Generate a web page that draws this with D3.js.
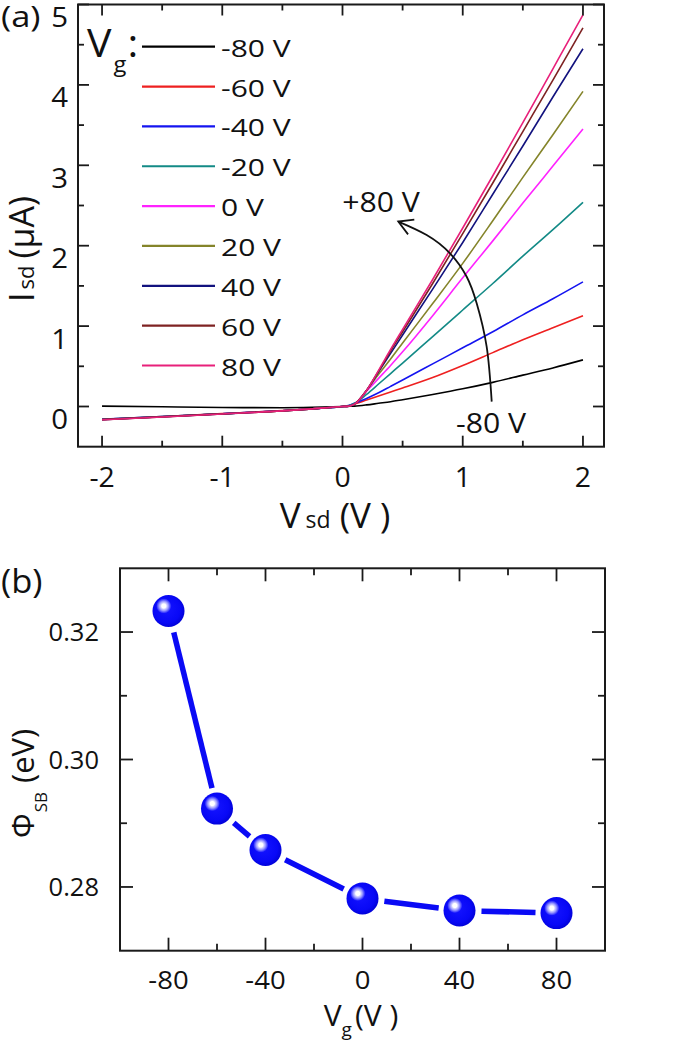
<!DOCTYPE html>
<html>
<head>
<meta charset="utf-8">
<script src="https://cdn.jsdelivr.net/npm/d3@7"></script>
<style>
  html, body { margin: 0; padding: 0; background: #ffffff; }
  svg { display: block; }
  text { font-family: "Open Sans", "Noto Sans", sans-serif; fill: #111; }
</style>
</head>
<body>
<svg id="chart" width="685" height="1041"></svg>
<script>
// ---------------- Panel (a) data ----------------
const vsd = [-2, -1.5, -1, -0.5, -0.25, 0, 0.05, 0.1, 0.2, 0.3, 0.4, 0.5, 0.75, 1, 1.25, 1.5, 1.75, 2];
const gateLabels = ["-80 V", "-60 V", "-40 V", "-20 V", "0 V", "20 V", "40 V", "60 V", "80 V"];
const gateColors = ["#000000", "#ee2020", "#1414f0", "#138a86", "#ff22ff", "#84842a", "#12127e", "#7e2222", "#e8207a"];
const isdM80 = [0.005, -0.004, -0.012, -0.015, -0.01, 0, 0.002, 0.005, 0.02, 0.04, 0.06, 0.085, 0.15, 0.22, 0.30, 0.39, 0.48, 0.58];
const isdM60 = [-0.158, -0.124, -0.089, -0.051, -0.028, 0, 0.01, 0.03, 0.08, 0.13, 0.18, 0.23, 0.36, 0.51, 0.67, 0.83, 0.98, 1.13];
const isdM40 = [-0.159, -0.125, -0.09, -0.052, -0.028, 0, 0.012, 0.04, 0.10, 0.17, 0.25, 0.33, 0.53, 0.73, 0.93, 1.14, 1.34, 1.55];
const isdM20 = [-0.16, -0.126, -0.09, -0.053, -0.029, 0, 0.01, 0.04, 0.15, 0.28, 0.41, 0.54, 0.87, 1.2, 1.53, 1.87, 2.2, 2.54];
const isd0   = [-0.161, -0.127, -0.091, -0.053, -0.029, 0, 0.005, 0.03, 0.19, 0.35, 0.51, 0.68, 1.13, 1.6, 2.06, 2.53, 2.99, 3.45];
const isd20  = [-0.162, -0.127, -0.091, -0.054, -0.029, 0, 0.005, 0.03, 0.20, 0.40, 0.59, 0.79, 1.28, 1.78, 2.31, 2.85, 3.38, 3.92];
const isd40  = [-0.163, -0.128, -0.092, -0.054, -0.03, 0, 0.004, 0.03, 0.20, 0.43, 0.66, 0.89, 1.46, 2.04, 2.64, 3.24, 3.85, 4.45];
const isd60  = [-0.164, -0.129, -0.092, -0.055, -0.03, 0, 0.004, 0.03, 0.20, 0.44, 0.69, 0.93, 1.53, 2.15, 2.78, 3.42, 4.06, 4.71];
const isd80  = [-0.165, -0.13, -0.093, -0.055, -0.03, 0, 0.004, 0.03, 0.20, 0.45, 0.71, 0.96, 1.58, 2.22, 2.87, 3.53, 4.2, 4.87];
const isdSeries = [isdM80, isdM60, isdM40, isdM20, isd0, isd20, isd40, isd60, isd80];
const xTicksA = [-2, -1, 0, 1, 2];
const xMinorA = [-1.5, -0.5, 0.5, 1.5];
const yTicksA = [0, 1, 2, 3, 4, 5];
const yMinorA = [0.5, 1.5, 2.5, 3.5, 4.5];
// annotation arrow path (data units of panel a)
const arrowVsd = [1.241, 1.199, 1.116, 1.033, 0.894, 0.70, 0.464];
const arrowIsd = [0.06, 0.744, 1.284, 1.614, 1.905, 2.133, 2.30];

// ---------------- Panel (b) data ----------------
const vg = [-80, -60, -40, 0, 40, 80];
const phiSB = [0.3233, 0.2923, 0.2858, 0.2782, 0.2763, 0.2759];
const xTicksB = [-80, -40, 0, 40, 80];
const xMinorB = [-60, -20, 20, 60];
const yTicksB = [0.28, 0.30, 0.32];
const yMinorB = [0.29, 0.31];

const svg = d3.select("#chart");
const FONT = '"Open Sans", "Noto Sans", sans-serif';

function addText(parent, x, y, size, anchor, sx, rot) {
  const g = parent.append("g")
    .attr("transform", `translate(${x},${y}) scale(${sx || 1},1)` + (rot ? ` rotate(${rot})` : ""));
  return g.append("text")
    .attr("font-size", size)
    .attr("text-anchor", anchor || "start")
    .attr("font-family", FONT);
}

function frameAndTicks(g, x, y, xMaj, xMin, yMaj, yMin, L) {
  const [x0, x1] = x.range();
  const [y0, y1] = y.range(); // y0 bottom, y1 top
  g.append("rect")
    .attr("x", x0).attr("y", y1).attr("width", x1 - x0).attr("height", y0 - y1)
    .attr("fill", "none").attr("stroke", "#1a1a1a").attr("stroke-width", 2);
  const tk = (x1a, y1a, x2a, y2a) => g.append("line")
    .attr("x1", x1a).attr("y1", y1a).attr("x2", x2a).attr("y2", y2a)
    .attr("stroke", "#1a1a1a").attr("stroke-width", 1.8);
  xMaj.forEach(v => { tk(x(v), y0, x(v), y0 - L.maj); tk(x(v), y1, x(v), y1 + L.maj); });
  xMin.forEach(v => { tk(x(v), y0, x(v), y0 - L.min); tk(x(v), y1, x(v), y1 + L.min); });
  yMaj.forEach(v => { tk(x0, y(v), x0 + L.maj, y(v)); tk(x1, y(v), x1 - L.maj, y(v)); });
  yMin.forEach(v => { tk(x0, y(v), x0 + L.min, y(v)); tk(x1, y(v), x1 - L.min, y(v)); });
}

// ================= Panel (a) =================
const xA = d3.scaleLinear().domain([-2.2, 2.175]).range([78, 604]);
const yA = d3.scaleLinear().domain([-0.5, 5]).range([446.7, 4.5]);
const gA = svg.append("g");

// curves
const lineA = d3.line().x(d => xA(d[0])).y(d => yA(d[1])).curve(d3.curveMonotoneX);
isdSeries.forEach((s, i) => {
  gA.append("path")
    .attr("d", lineA(vsd.map((v, j) => [v, s[j]])))
    .attr("fill", "none")
    .attr("stroke", gateColors[i])
    .attr("stroke-width", 1.6);
});

frameAndTicks(gA, xA, yA, xTicksA, xMinorA, yTicksA, yMinorA, { maj: 11, min: 6 });

// tick labels
xTicksA.forEach(v => addText(gA, xA(v), 487, 27, "middle", 1.05).text(String(v)));
yTicksA.forEach(v => addText(gA, 68, yA(v) + 22.5, 28, "end", 1.05).text(String(v)));

// axis titles
{
  const t = addText(gA, 335, 528, 35, "middle", 1);
  t.append("tspan").text("V");
  t.append("tspan").attr("font-size", 23).attr("dx", 5).text("sd");
  t.append("tspan").attr("dx", 9).text("(V )");
}
{
  const t = addText(gA, 34, 302, 34, "start", 1, -90);
  t.append("tspan").text("I");
  t.append("tspan").attr("font-size", 22).attr("dx", 3).text("sd");
  t.append("tspan").attr("dx", 7).text("(μA)");
}
addText(gA, 1, 27, 30, "start", 1.15).text("(a)");

// legend
{
  const t = addText(gA, 87, 57, 38, "start", 1.08);
  t.append("tspan").text("V");
  t.append("tspan").attr("font-size", 22).attr("dy", 15).attr("dx", 2).text("g");
  t.append("tspan").attr("dy", -15).attr("dx", 1).text(":");
}
const legY = d3.scaleLinear().domain([0, 8]).range([46.7, 365.5]);
gateLabels.forEach((lab, i) => {
  gA.append("line")
    .attr("x1", 142).attr("x2", 215)
    .attr("y1", legY(i)).attr("y2", legY(i))
    .attr("stroke", gateColors[i]).attr("stroke-width", 2.2);
  addText(gA, 221, legY(i) + 10, 24, "start", 1.25).text(lab);
});

// arrow annotation
const defs = svg.append("defs");
defs.append("marker")
  .attr("id", "openArrow")
  .attr("markerUnits", "userSpaceOnUse")
  .attr("viewBox", "-16 -10 20 20")
  .attr("refX", 0).attr("refY", 0)
  .attr("markerWidth", 20).attr("markerHeight", 20)
  .attr("orient", "auto")
  .append("path")
  .attr("d", "M-14,-8 L0,0 L-14,8")
  .attr("fill", "none").attr("stroke", "#111").attr("stroke-width", 1.8);

const arrowLine = d3.line().x(d => xA(d[0])).y(d => yA(d[1])).curve(d3.curveNatural);
gA.append("path")
  .attr("d", arrowLine(arrowVsd.map((v, i) => [v, arrowIsd[i]])))
  .attr("fill", "none").attr("stroke", "#111").attr("stroke-width", 1.8)
  .attr("marker-end", "url(#openArrow)");

addText(gA, 381, 212, 27, "middle", 1.12).text("+80 V");
addText(gA, 491, 433, 27, "middle", 1.12).text("-80 V");

// ================= Panel (b) =================
const xB = d3.scaleLinear().domain([-100, 100]).range([120, 605]);
const yB = d3.scaleLinear().domain([0.27, 0.33]).range([950.7, 568.3]);
const gB = svg.append("g");

frameAndTicks(gB, xB, yB, xTicksB, xMinorB, yTicksB, yMinorB, { maj: 13, min: 7 });

xTicksB.forEach(v => addText(gB, xB(v), 989, 25, "middle", 1.1).text(String(v)));
yTicksB.forEach(v => addText(gB, 99, yB(v) + 9, 25, "end", 1.02).text(d3.format(".2f")(v)));

// connecting segments with gaps
const gap = 22;
for (let i = 0; i < vg.length - 1; i++) {
  const ax = xB(vg[i]), ay = yB(phiSB[i]);
  const bx = xB(vg[i + 1]), by = yB(phiSB[i + 1]);
  const dx = bx - ax, dy = by - ay, len = Math.hypot(dx, dy);
  const ux = dx / len, uy = dy / len;
  gB.append("line")
    .attr("x1", ax + ux * gap).attr("y1", ay + uy * gap)
    .attr("x2", bx - ux * (gap - 1)).attr("y2", by - uy * (gap - 1))
    .attr("stroke", "#0a0af5").attr("stroke-width", 5.5);
}

// sphere markers: base + highlight
const base = defs.append("radialGradient")
  .attr("id", "ballBase").attr("cx", "45%").attr("cy", "45%").attr("r", "60%");
[[0, "#1414ff"], [0.7, "#0808f6"], [1, "#0000d0"]]
  .forEach(([o, c]) => base.append("stop").attr("offset", o).attr("stop-color", c));
const hi = defs.append("radialGradient")
  .attr("id", "ballHi").attr("cx", "50%").attr("cy", "50%").attr("r", "50%");
[[0, "#ffffff"], [0.28, "#ffffff"], [0.42, "#d0d0ff"], [0.62, "#9a9aff"], [0.8, "#5a5aff"], [1, "#1414ff"]]
  .forEach(([o, c]) => hi.append("stop").attr("offset", o).attr("stop-color", c));

const ballData = vg.map((v, i) => [v, phiSB[i]]);
gB.selectAll("circle.ball")
  .data(ballData)
  .join("circle")
  .attr("class", "ball")
  .attr("cx", d => xB(d[0])).attr("cy", d => yB(d[1]))
  .attr("r", 16)
  .attr("fill", "url(#ballBase)");
gB.selectAll("circle.hi")
  .data(ballData)
  .join("circle")
  .attr("class", "hi")
  .attr("cx", d => xB(d[0]) - 4.7).attr("cy", d => yB(d[1]) - 5)
  .attr("r", 7.5)
  .attr("fill", "url(#ballHi)");

// axis titles
{
  const t = addText(gB, 361, 1026, 30, "middle", 1);
  t.append("tspan").text("V");
  t.append("tspan").attr("font-size", 19).attr("dy", 10).text("g");
  t.append("tspan").attr("dy", -10).attr("dx", 3).text("(V )");
}
{
  const t = addText(gB, 34, 838, 31, "start", 1, -90);
  t.append("tspan").text("Φ");
  t.append("tspan").attr("font-size", 17).attr("dy", 13).attr("dx", 1).text("SB");
  t.append("tspan").attr("dy", -13).attr("dx", 9).text("(eV)");
}
addText(gB, 1, 593, 32, "start", 1.08).text("(b)");
</script>
</body>
</html>
